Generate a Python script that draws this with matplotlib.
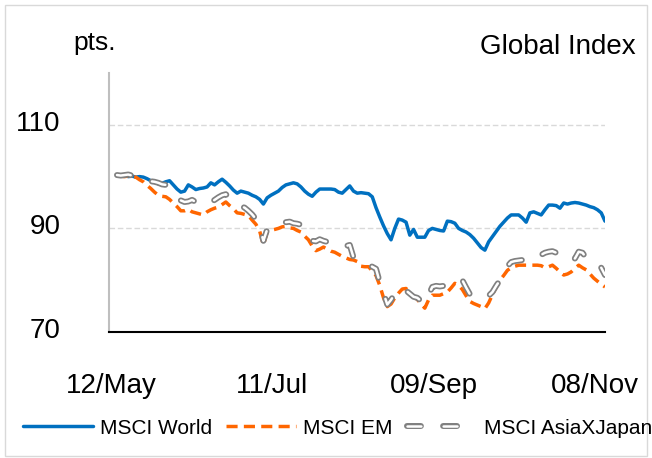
import matplotlib
matplotlib.use('Agg')
import matplotlib.pyplot as plt
import matplotlib.transforms as mtransforms
from matplotlib.patches import Rectangle

# ---------------- data ----------------
x_labels = ['12/May', '11/Jul', '09/Sep', '08/Nov']
x_label_idx = [0, 43, 86, 129]
y_ticks = [70, 90, 110]

msci_world = [
    100.2, 100.1, 100.3, 100.0, 100.1, 99.9, 100.0, 99.9, 99.6, 99.2,
    99.0, 98.6, 98.7, 99.0, 99.2, 98.4, 97.6, 97.0, 97.2, 98.4,
    98.0, 97.5, 97.7, 97.8, 98.0, 98.8, 98.4, 99.0, 99.5, 98.9,
    98.2, 97.4, 96.8, 97.2, 97.0, 96.8, 96.4, 96.1, 95.6, 94.7,
    95.9, 96.4, 96.8, 97.2, 97.9, 98.4, 98.6, 98.8, 98.6, 98.0,
    97.2, 96.6, 96.2, 97.0, 97.6, 97.6, 97.6, 97.6, 97.5, 97.0,
    96.8, 97.5, 98.2, 97.2, 96.8, 96.9, 96.8, 96.7, 96.1, 94.0,
    92.2, 90.5, 89.0, 87.8, 90.0, 91.8, 91.6, 91.2, 88.7, 89.8,
    88.3, 88.3, 88.3, 89.6, 90.0, 89.8, 89.6, 89.5, 91.4, 91.3,
    91.0, 90.0, 89.6, 89.3, 88.8, 88.1, 87.2, 86.3, 85.8, 87.4,
    88.4, 89.4, 90.4, 91.2, 92.0, 92.6, 92.6, 92.6, 92.0, 91.2,
    93.0, 93.2, 92.9, 92.6, 93.6, 94.5, 94.5, 94.4, 93.9, 94.9,
    94.7, 94.9, 95.0, 94.9, 94.7, 94.5, 94.2, 94.0, 93.6, 93.0,
    91.4,
]

msci_em = [
    100.2, 100.1, 100.0, 100.1, 100.0, 99.9, 99.4, 99.0, 98.3, 97.7,
    97.0, 96.4, 96.2, 96.1, 95.6, 94.9, 94.2, 93.4, 93.4, 93.7,
    93.2, 93.0, 92.8, 92.6, 93.2, 93.6, 93.9, 94.1, 94.6, 95.1,
    94.4, 93.8, 93.0, 92.9, 92.7, 92.5, 91.6, 90.8, 89.5, 86.8,
    89.3, 89.6, 89.8, 90.0, 90.3, 90.4, 90.1, 90.0, 89.6, 89.3,
    88.5, 87.8, 86.6, 85.7, 86.0, 86.4, 86.0, 85.6, 85.4, 85.0,
    84.6, 84.3, 84.0, 83.9, 83.6, 82.7, 82.6, 82.6, 81.8, 80.9,
    79.0, 76.6, 74.9, 75.4, 76.6, 77.5, 78.3, 78.4, 77.6, 76.8,
    76.3, 75.4, 74.6, 76.2, 77.1, 77.1, 77.1, 77.4, 77.7, 78.5,
    79.4, 79.0, 78.2, 77.0, 75.9, 75.5, 75.2, 74.9, 74.5, 75.6,
    77.2, 78.6, 80.0, 80.9, 81.9, 82.4, 82.7, 82.9, 82.9, 82.9,
    82.9, 82.9, 82.9, 82.8, 82.4, 82.6, 82.9, 82.3, 81.6, 81.0,
    81.2, 81.6, 82.3, 82.9, 82.4, 82.0, 81.2, 80.4, 79.8, 79.2,
    78.7,
]

msci_asia_x_japan = [
    100.3, 100.2, 100.3, 100.4, 100.2, 100.0, 99.9, 99.7, 99.4, 99.1,
    99.0, 98.8, 98.5, 98.4, 97.8, 97.0, 96.2, 95.4, 95.1, 95.2,
    95.5, 95.1, 95.0, 94.9, 95.3, 95.0, 95.5, 96.0, 96.4, 96.6,
    95.8, 95.0, 94.6, 94.3, 94.0, 93.4, 92.7, 91.8, 90.2, 87.6,
    89.8, 90.3, 90.6, 90.9, 91.1, 91.2, 91.3, 91.0, 90.9, 90.7,
    89.6, 88.6, 87.6, 87.5, 87.9, 87.6, 87.4, 87.4, 87.1, 86.9,
    86.7, 86.6, 86.8, 84.4, 83.8, 83.5, 83.2, 83.0, 82.6, 82.2,
    79.6, 77.5, 75.3, 76.2, 77.4, 78.4, 78.5, 78.0, 77.4, 76.8,
    76.6, 76.0, 75.5, 77.2, 78.7, 78.9, 78.8, 78.9, 79.0, 79.4,
    79.8, 80.1, 80.0, 78.6, 77.3, 77.0, 76.9, 76.6, 76.6, 77.0,
    77.7, 78.9, 80.0, 81.3, 82.7, 83.5, 83.7, 83.8, 83.9, 84.2,
    84.0, 84.2, 84.6, 84.9, 85.3, 85.5, 85.6, 85.3, 85.5, 84.8,
    84.3, 84.0, 84.2, 85.5, 85.3, 84.3, 83.8, 83.4, 83.0, 82.4,
    81.0,
]

series_names = ['MSCI World', 'MSCI EM', 'MSCI AsiaXJapan']

# ---------------- style ----------------
plt.rcParams['font.family'] = ['Liberation Sans', 'DejaVu Sans']
plt.rcParams['lines.scale_dashes'] = False

W, H = 652, 458
fig = plt.figure(figsize=(W / 100, H / 100), dpi=100)
ax = fig.add_axes([109 / W, 1 - 332 / H, (605 - 109) / W, (332 - 73) / H])

xs = list(range(len(msci_world)))

asia_dash = (0, (10, 16))

l_world, = ax.plot(xs, msci_world, color='#0070C0', lw=2.5,
                   solid_joinstyle='round', solid_capstyle='round', zorder=3)
l_em, = ax.plot(xs, msci_em, color='#FF6600', lw=2.5,
                linestyle=(0, (8, 4.5)), dash_capstyle='butt', zorder=4)
l_asia_out, = ax.plot(xs, msci_asia_x_japan, color='#808080', lw=4.3,
                      linestyle=asia_dash, dash_capstyle='round',
                      dash_joinstyle='round', zorder=5)
l_asia_in, = ax.plot(xs, msci_asia_x_japan, color='white', lw=1.8,
                     linestyle=asia_dash, dash_capstyle='round',
                     dash_joinstyle='round', zorder=6)

ax.set_xlim(-2.13, 130)
ax.set_ylim(70, 120)
ax.set_yticks(y_ticks)
ax.set_xticks(x_label_idx)
ax.set_xticklabels(x_labels)

ax.grid(axis='y', color='#d9d9d9', linestyle=(0, (4, 2)), lw=1.0, zorder=0)
ax.grid(axis='x', visible=False)
ax.set_axisbelow(True)

for s in ['top', 'right']:
    ax.spines[s].set_visible(False)
ax.spines['left'].set_color('#bfbfbf')
ax.spines['left'].set_linewidth(1.5)
ax.spines['bottom'].set_color('black')
ax.spines['bottom'].set_linewidth(1.5)
ax.spines['bottom'].set_zorder(7)

ax.tick_params(axis='both', length=0, labelsize=20, colors='black')
ax.tick_params(axis='x', pad=29.5)
ax.tick_params(axis='y', pad=35)

off_x = mtransforms.ScaledTranslation(-6 / 100, 0, fig.dpi_scale_trans)
for lab in ax.get_xticklabels():
    lab.set_transform(lab.get_transform() + off_x)
off_y = mtransforms.ScaledTranslation(0, 4 / 100, fig.dpi_scale_trans)
for lab in ax.get_yticklabels():
    lab.set_transform(lab.get_transform() + off_y)

fig.text(73 / W, 1 - 50 / H, 'pts.', fontsize=19, ha='left', va='baseline')
fig.text(636 / W, 1 - 54 / H, 'Global Index', fontsize=20, ha='right', va='baseline')

fig.legend(handles=[l_world, l_em, (l_asia_out, l_asia_in)], labels=series_names,
           loc='center left', bbox_to_anchor=(23 / W, 1 - 428 / H), ncol=3,
           frameon=False, fontsize=15, handlelength=3.36, handletextpad=0.34,
           columnspacing=0.67, borderpad=0, borderaxespad=0)

fig.patches.append(Rectangle((5 / W, 2 / H), 642 / W, 451 / H, transform=fig.transFigure,
                             fill=False, edgecolor='#d9d9d9', lw=1.0))

fig.savefig('out.png', dpi=100)
